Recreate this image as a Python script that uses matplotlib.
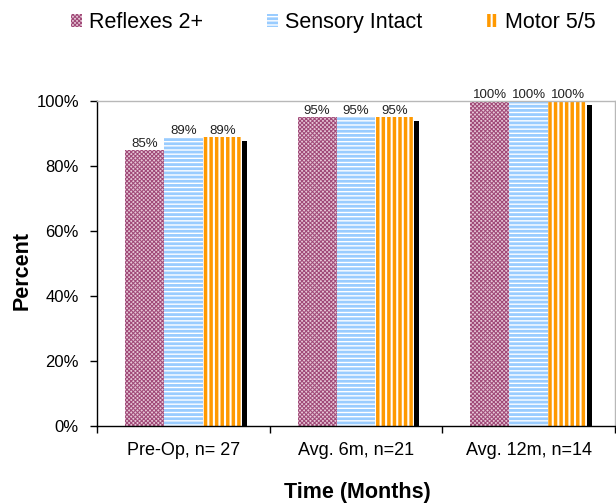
import matplotlib
matplotlib.use("Agg")
import matplotlib.pyplot as plt
from matplotlib.patches import Patch
from matplotlib.transforms import offset_copy
from matplotlib.ticker import FixedLocator, PercentFormatter, NullFormatter
import numpy as np

plt.rcParams['font.family'] = ['Liberation Sans', 'DejaVu Sans']

categories = ['Pre-Op, n= 27', 'Avg. 6m, n=21', 'Avg. 12m, n=14']
series_names = ['Reflexes 2+', 'Sensory Intact', 'Motor 5/5']
reflexes = [85, 95, 100]
sensory = [89, 95, 100]
motor = [89, 95, 100]
series_values = [reflexes, sensory, motor]

# style: (facecolor, hatchcolor, hatch, hatch linewidth)
styles = [
    ('#e6c6d6', '#a04a78', 'xxxxxxxx', 0.75),
    ('white', '#99ccff', '----', 2.0),
    ('#ff9900', 'white', '|||', 1.5),
]

fig = plt.figure(figsize=(6.16, 5.03), dpi=100)
ax = fig.add_axes([97/616, (503-425.7)/503, 518/616, 324.7/503])

x = np.arange(len(categories))
w = 0.2257
offsets = [-w, 0, w]

shadow_tr = offset_copy(ax.transData, fig=fig, x=3.6, y=-2.9, units='points')

for vals, off in zip(series_values, offsets):
    ax.bar(x + off, vals, w, color='black', linewidth=0, transform=shadow_tr, zorder=1)

for i, (vals, off, (fc, hc, h, hlw)) in enumerate(zip(series_values, offsets, styles)):
    bars = ax.bar(x + off, vals, w, facecolor=fc, edgecolor=hc, hatch=h, linewidth=0, zorder=2)
    for b in bars:
        if hasattr(b, 'set_hatch_linewidth'):
            b.set_hatch_linewidth(hlw)
    for xi, v in zip(x + off, vals):
        ax.annotate(f'{v}%', (xi, v), xytext=(0, 2.2), textcoords='offset points',
                    ha='center', va='baseline', fontsize=9.5, color='#222222',
                    annotation_clip=False, zorder=5)

ax.set_xlim(-0.5, 2.5)
ax.set_ylim(0, 100)
ax.yaxis.set_major_locator(FixedLocator([0, 20, 40, 60, 80, 100]))
ax.yaxis.set_major_formatter(PercentFormatter(decimals=0))
ax.tick_params(axis='y', direction='out', length=5, width=1, pad=8, labelsize=12, colors='black')

ax.xaxis.set_major_locator(FixedLocator([-0.5, 0.5, 1.5, 2.5]))
ax.xaxis.set_major_formatter(NullFormatter())
ax.xaxis.set_minor_locator(FixedLocator(list(x)))
ax.set_xticklabels(categories, minor=True)
ax.tick_params(axis='x', which='major', direction='out', length=5, width=1)
ax.tick_params(axis='x', which='minor', length=0, pad=11.5, labelsize=13)

for s in ['left', 'bottom']:
    ax.spines[s].set_color('black')
    ax.spines[s].set_linewidth(1)
for s in ['top', 'right']:
    ax.spines[s].set_color('#b8b8b8')
    ax.spines[s].set_linewidth(1)

fig.text(357/616, 1 - 497.7/503, 'Time (Months)', ha='center', va='baseline',
         fontsize=15.5, fontweight='bold')
fig.text(27.3/616, 1 - 271/503, 'Percent', ha='center', va='baseline', rotation=90,
         rotation_mode='anchor', fontsize=15.5, fontweight='bold')

handles = []
for (fc, hc, h, hlw), name in zip(styles, series_names):
    p = Patch(facecolor=fc, edgecolor=hc, hatch=h, linewidth=0, label=name)
    handles.append(p)
leg = fig.legend(handles=handles, loc='center left', bbox_to_anchor=(70.7/616, 1 - 22.5/503),
                 ncol=3, frameon=False, fontsize=15.5, handlelength=0.51, handleheight=0.51,
                 handletextpad=0.33, columnspacing=3.0, borderpad=0, borderaxespad=0)
for h, (fc, hc, hh, hlw) in zip(leg.legend_handles, styles):
    if hasattr(h, 'set_hatch_linewidth'):
        h.set_hatch_linewidth(hlw)

fig.savefig('out.png', dpi=100)
